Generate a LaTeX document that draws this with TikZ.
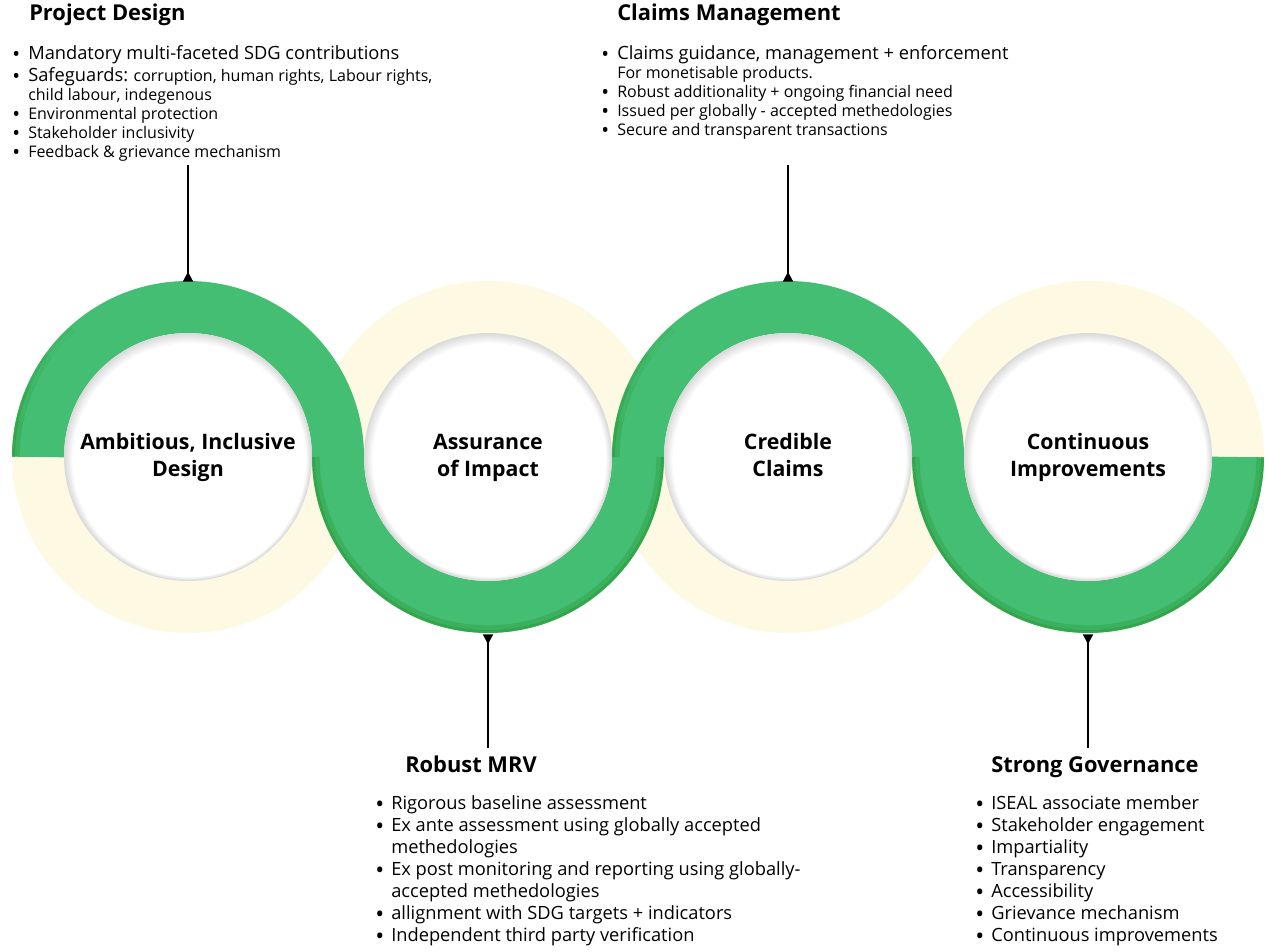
\documentclass[tikz,border=0pt]{standalone}
\usepackage{fontspec}
\usepackage{graphicx}
\setmainfont{Open Sans}
\usetikzlibrary{arrows.meta}

\definecolor{ringgreen}{HTML}{43BE73}
\definecolor{ringdark}{HTML}{2A9632}
\definecolor{ringcream}{HTML}{FEF9E3}

\newcommand{\blt}{\makebox[12pt][l]{\raisebox{-0.3ex}{\scalebox{1.3}{\textbullet}}}}
\newcommand{\nob}{\hspace*{12pt}}
\newcommand{\bigtxt}{\fontsize{13.7}{16.5}\selectfont}

\begin{document}
\begin{tikzpicture}[x=0.75pt,y=0.75pt,
  head/.style={anchor=base west,inner sep=0pt,font=\fontsize{16.4}{19}\selectfont\bfseries},
  list/.style={anchor=north west,inner sep=0pt,align=left,font=\fontsize{12}{14.25}\selectfont},
  biglist/.style={list,font=\fontsize{13.7}{16.5}\selectfont},
  ringlabel/.style={circle,minimum size=264pt,inner sep=0pt,align=center,font=\fontsize{16}{20.25}\selectfont\bfseries},
  conn/.style={line width=1.5pt,-{Triangle[reversed,width=7.5pt,length=7.5pt]}}]
\useasboundingbox (0,0) rectangle (1268,951);

% back rings
\foreach \cx in {188,488,788,1088}
  \draw[ringcream,line width=39pt] (\cx,494) circle[radius=150];

% green wave
\draw[ringgreen,line width=39pt] (38,494) arc[start angle=180,end angle=0,radius=150]
  arc[start angle=180,end angle=360,radius=150] arc[start angle=180,end angle=0,radius=150]
  arc[start angle=180,end angle=360,radius=150];
% darker outer edge
\foreach \cx in {488,1088}{
  \draw[ringdark,line width=4pt,opacity=.3] (\cx-171,494) arc[start angle=180,end angle=360,radius=171];
  \draw[ringdark,line width=2pt,opacity=.6] (\cx-174.5,494) arc[start angle=180,end angle=360,radius=174.5];
}
\foreach \cx in {188,788}
  \foreach \a/\op in {180/.6,168/.45,156/.3,144/.15}{
    \draw[ringdark,line width=4pt,opacity=\op*.5] ({\cx+171*cos(\a)},{494+171*sin(\a)}) arc[start angle=\a,end angle=\a-12,radius=171];
    \draw[ringdark,line width=2pt,opacity=\op] ({\cx+174.5*cos(\a)},{494+174.5*sin(\a)}) arc[start angle=\a,end angle=\a-12,radius=174.5];
  }

% holes with inner shadow
\foreach \cx in {188,488,788,1088}{
  \fill[white] (\cx,494) circle[radius=124];
  \foreach \k in {1,...,6}
    \fill[black,opacity=.025,even odd rule] (\cx,494) circle[radius=124]
      ({\cx+0.25*\k},{494-0.52*\k}) circle[radius={124-1.17*\k}];
}

\node[ringlabel] (ring1) at (188,493) {\strut Ambitious, Inclusive\\\strut Design};
\node[ringlabel] (ring2) at (488,493) {\strut Assurance\\\strut of Impact};
\node[ringlabel] (ring3) at (788,493) {\strut Credible\\\strut Claims};
\node[ringlabel] (ring4) at (1088,493) {\strut Continuous\\\strut Improvements};

% top texts
\node[head] (design) at (29,930) {Project Design};
\node[list] (designlist) at (12,906) {\blt{\bigtxt Mandatory multi-faceted SDG contributions}\\[2.25pt]
  \blt{\bigtxt Safeguards:} corruption, human rights, Labour rights,\\
  \nob child labour, indegenous\\
  \blt Environmental protection\\
  \blt Stakeholder inclusivity\\
  \blt Feedback \& grievance mechanism};
\node[head] (claims) at (617,930) {Claims Management};
\node[list] (claimslist) at (601,906) {\blt{\bigtxt Claims guidance, management + enforcement}\\
  \nob For monetisable products.\\
  \blt Robust additionality + ongoing financial need\\
  \blt Issued per globally - accepted methedologies\\
  \blt Secure and transparent transactions};

% bottom texts
\node[head] (mrv) at (405,179) {Robust MRV};
\node[biglist] (mrvlist) at (375,156) {\blt Rigorous baseline assessment\\
  \blt Ex ante assessment using globally accepted\\
  \nob methedologies\\
  \blt Ex post monitoring and reporting using globally-\\
  \nob accepted methedologies\\
  \blt allignment with SDG targets + indicators\\
  \blt Independent third party verification};
\node[head] (gov) at (991,179) {Strong Governance};
\node[biglist] (govlist) at (975,156) {\blt ISEAL associate member\\
  \blt Stakeholder engagement\\
  \blt Impartiality\\
  \blt Transparency\\
  \blt Accessibility\\
  \blt Grievance mechanism\\
  \blt Continuous improvements};

% connectors
\coordinate (designend) at (188,786);
\coordinate (claimsend) at (788,786);
\coordinate (mrvend) at (488,203);
\coordinate (govend) at (1088,203);
\draw[conn] (designend) -- (ring1.north);
\draw[conn] (claimsend) -- (ring3.north);
\draw[conn] (mrvend) -- (ring2.south);
\draw[conn] (govend) -- (ring4.south);
\end{tikzpicture}
\end{document}
